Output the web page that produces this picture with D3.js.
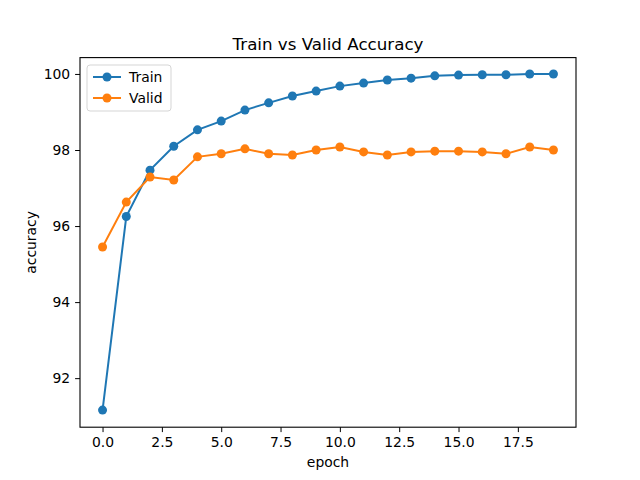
<!DOCTYPE html>
<html><head><meta charset="utf-8">
<script src="https://cdn.jsdelivr.net/npm/d3@7"></script>
<style>body{margin:0;background:#fff}text{font-family:"DejaVu Sans",sans-serif}</style>
</head><body>
<svg id="c" width="640" height="480"></svg>
<script>
var epochs = d3.range(20);
var train = [91.16,96.25,97.47,98.1,98.53,98.76,99.05,99.24,99.42,99.55,99.68,99.76,99.84,99.89,99.95,99.97,99.98,99.98,100,100];
var valid = [95.45,96.63,97.29,97.21,97.82,97.9,98.03,97.9,97.87,98.0,98.08,97.95,97.87,97.95,97.97,97.97,97.95,97.9,98.08,98.0];
var xTicks = [0,2.5,5,7.5,10,12.5,15,17.5];
var yTicks = [92,94,96,98,100];

var svg = d3.select("#c");
var L=80,R=576,T=57.6,B=427.2;
var x = d3.scaleLinear().domain([-0.95,19.95]).range([L,R]);
var y = d3.scaleLinear().domain([90.71,100.43]).range([B,T]);

svg.append("g").attr("transform","translate(0,"+B+")")
  .call(d3.axisBottom(x).tickValues(xTicks).tickFormat(d3.format(".1f")).tickSizeOuter(0).tickSize(4.9).tickPadding(4.9));
svg.append("g").attr("transform","translate("+L+",0)")
  .call(d3.axisLeft(y).tickValues(yTicks).tickFormat(d3.format("d")).tickSizeOuter(0).tickSize(4.9).tickPadding(4.9));
svg.selectAll(".domain").remove();
svg.selectAll(".tick text").attr("font-size",13.9).attr("fill","#000");
svg.selectAll(".tick line").attr("stroke","#000");
svg.append("rect").attr("x",L).attr("y",T).attr("width",R-L).attr("height",B-T)
  .attr("fill","none").attr("stroke","#000").attr("stroke-width",1.1);

function series(data,color){
  svg.append("path").datum(data).attr("fill","none").attr("stroke",color).attr("stroke-width",2)
    .attr("d",d3.line().x(function(d,i){return x(epochs[i]);}).y(function(d){return y(d);}));
  svg.append("g").selectAll("circle").data(data).enter().append("circle")
    .attr("cx",function(d,i){return x(epochs[i]);}).attr("cy",function(d){return y(d);})
    .attr("r",4.5).attr("fill",color);
}
series(train,"#1f77b4");
series(valid,"#ff7f0e");

svg.append("text").attr("x",(L+R)/2).attr("y",T-8).attr("text-anchor","middle").attr("font-size",16.7).text("Train vs Valid Accuracy");
svg.append("text").attr("x",(L+R)/2).attr("y",467).attr("text-anchor","middle").attr("font-size",13.9).text("epoch");
svg.append("text").attr("transform","translate(36,"+((T+B)/2)+") rotate(-90)").attr("text-anchor","middle").attr("font-size",13.9).text("accuracy");

var lg = svg.append("g").attr("transform","translate(87,65)");
lg.append("rect").attr("width",84).attr("height",46).attr("rx",3).attr("fill","#fff").attr("stroke","#ccc").attr("opacity",0.8);
[["Train","#1f77b4"],["Valid","#ff7f0e"]].forEach(function(s,i){
  var yy=12+i*21;
  lg.append("line").attr("x1",6).attr("x2",34).attr("y1",yy).attr("y2",yy).attr("stroke",s[1]).attr("stroke-width",2);
  lg.append("circle").attr("cx",20).attr("cy",yy).attr("r",4.5).attr("fill",s[1]);
  lg.append("text").attr("x",42).attr("y",yy+5).attr("font-size",13.9).text(s[0]);
});
</script>
</body></html>
